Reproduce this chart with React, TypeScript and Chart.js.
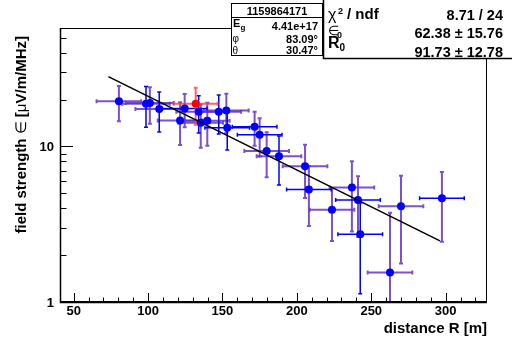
import React, { useEffect, useRef } from "react";
import { Chart, registerables } from "chart.js";

Chart.register(...registerables);

// ---- data ----
const distance = [80.4, 98.6, 101.2, 107.5, 124.6, 134.0, 121.5, 135.4, 139.8, 147.5, 152.6, 153.2, 171.6, 175.0, 179.7, 188.0, 205.5, 208.1, 223.6, 237.0, 241.1, 242.6, 262.6, 270.0, 297.5];
const fieldStrength = [19.5, 18.8, 19.0, 17.4, 17.5, 16.7, 14.7, 14.2, 14.6, 16.7, 17.0, 13.2, 13.4, 11.9, 9.33, 8.66, 7.46, 5.28, 3.92, 5.44, 4.53, 2.73, 1.55, 4.12, 4.64];
const distanceError = [15, 16, 16, 16, 15, 15, 15, 15, 15, 15, 15, 15, 15, 15, 15, 15, 15, 15, 15, 15, 15, 15, 15, 15, 15];
const fieldError = [5.0, 5.5, 5.0, 5.0, 4.2, 4.5, 4.5, 4.4, 4.5, 4.7, 4.8, 3.7, 3.3, 3.3, 3.0, 3.0, 2.8, 2.2, 1.45, 2.6, 1.9, 1.6, 2.2, 2.35, 2.2];
// which error bars are drawn in blue (the rest are purple)
const xErrorBlue = [false, false, false, false, true, false, false, false, false, false, false, true, true, true, false, false, false, true, false, false, true, true, false, false, true];
const yErrorBlue = [false, true, false, true, false, true, false, false, false, true, false, true, false, false, false, true, false, false, false, false, false, true, false, false, false];

const flaggedDistance = [132.0];
const flaggedField = [18.8];
const flaggedDistanceError = [14.7];
const flaggedFieldError = [5.0];

const fitDistance = [73.3, 296.2];
const fitField = [28.1, 2.47];

const xMajorTicks = [50, 100, 150, 200, 250, 300];
const xMinorTicks = [60, 70, 80, 90, 110, 120, 130, 140, 160, 170, 180, 190, 210, 220, 230, 240, 260, 270, 280, 290, 310, 320];
const yMajorTicks = [1, 10];
const yMinorTicks = [2, 3, 4, 5, 6, 7, 8, 9, 20, 30, 40, 50];

const xTitle = "distance R [m]";
// y title pieces: [text, bold?]
const yTitleParts: [string, boolean][] = [
  ["field strength ", true],
  ["\u2208", false],
  [" [", true],
  ["\u03bc", false],
  ["V/m/MHz]", true],
];

const eventId = "1159864171";
const energyText = "4.41e+17";
const phiText = "83.09\u00b0";
const thetaText = "30.47\u00b0";
const chi2Text = "8.71 / 24";
const eps0Text = "62.38 \u00b1 15.76";
const r0Text = "91.73 \u00b1 12.78";

const FONT = '"Liberation Sans", Arial, sans-serif';
const PURPLE = "rgba(100,50,200,0.85)";
const BLUE = "#0000ff";
const RED_BAR = "rgba(255,60,60,0.8)";

const errorBarPlugin = {
  id: "errorBars",
  beforeDatasetsDraw(chart: any) {
    const { ctx, chartArea: a, scales } = chart;
    const xs = scales.x;
    const ys = scales.y;
    ctx.save();
    ctx.beginPath();
    ctx.rect(a.left, a.top, a.right - a.left, a.bottom - a.top);
    ctx.clip();
    const cap = 2;
    const drawX = (i: number, X: number[], Y: number[], EX: number[], color: string, w: number) => {
      const py = ys.getPixelForValue(Y[i]);
      const xl = xs.getPixelForValue(X[i] - EX[i]);
      const xr = xs.getPixelForValue(X[i] + EX[i]);
      ctx.strokeStyle = color;
      ctx.lineWidth = w;
      ctx.beginPath();
      ctx.moveTo(xl, py);
      ctx.lineTo(xr, py);
      ctx.moveTo(xl, py - cap);
      ctx.lineTo(xl, py + cap);
      ctx.moveTo(xr, py - cap);
      ctx.lineTo(xr, py + cap);
      ctx.stroke();
    };
    const drawY = (i: number, X: number[], Y: number[], EY: number[], color: string, w: number) => {
      const px = xs.getPixelForValue(X[i]);
      const yt = ys.getPixelForValue(Y[i] + EY[i]);
      const low = Y[i] - EY[i];
      const yb = low > 0 ? ys.getPixelForValue(low) : a.bottom + 20;
      ctx.strokeStyle = color;
      ctx.lineWidth = w;
      ctx.beginPath();
      ctx.moveTo(px, yt);
      ctx.lineTo(px, yb);
      ctx.moveTo(px - cap, yt);
      ctx.lineTo(px + cap, yt);
      ctx.moveTo(px - cap, yb);
      ctx.lineTo(px + cap, yb);
      ctx.stroke();
    };
    for (let i = 0; i < distance.length; i++) {
      if (!xErrorBlue[i]) drawX(i, distance, fieldStrength, distanceError, PURPLE, 2);
      if (!yErrorBlue[i]) drawY(i, distance, fieldStrength, fieldError, PURPLE, 2);
    }
    for (let i = 0; i < distance.length; i++) {
      if (xErrorBlue[i]) drawX(i, distance, fieldStrength, distanceError, BLUE, 1.5);
      if (yErrorBlue[i]) drawY(i, distance, fieldStrength, fieldError, BLUE, 1.5);
    }
    for (let i = 0; i < flaggedDistance.length; i++) {
      drawX(i, flaggedDistance, flaggedField, flaggedDistanceError, RED_BAR, 2);
      drawY(i, flaggedDistance, flaggedField, flaggedFieldError, RED_BAR, 2);
    }
    ctx.restore();
  },
};

const framePlugin = {
  id: "rootFrame",
  afterDraw(chart: any) {
    const { ctx, chartArea: a, scales } = chart;
    const xs = scales.x;
    const ys = scales.y;
    ctx.save();
    // frame
    ctx.strokeStyle = "#000";
    ctx.lineWidth = 1;
    ctx.strokeRect(a.left + 0.5, a.top + 0.5, a.right - a.left - 1, a.bottom - a.top - 1);
    ctx.lineWidth = 1.5;
    ctx.beginPath();
    ctx.moveTo(a.left + 0.5, a.top);
    ctx.lineTo(a.left + 0.5, a.bottom + 0.5);
    ctx.lineTo(a.right, a.bottom + 0.5);
    ctx.stroke();

    // ticks (inside)
    ctx.lineWidth = 1;
    ctx.beginPath();
    for (const v of xMajorTicks) {
      const px = Math.round(xs.getPixelForValue(v)) + 0.5;
      ctx.moveTo(px, a.bottom);
      ctx.lineTo(px, a.bottom - 9);
    }
    for (const v of xMinorTicks) {
      const px = Math.round(xs.getPixelForValue(v)) + 0.5;
      ctx.moveTo(px, a.bottom);
      ctx.lineTo(px, a.bottom - 4.5);
    }
    for (const v of yMajorTicks) {
      const py = Math.round(ys.getPixelForValue(v)) + 0.5;
      ctx.moveTo(a.left, py);
      ctx.lineTo(a.left + 13, py);
    }
    for (const v of yMinorTicks) {
      const py = Math.round(ys.getPixelForValue(v)) + 0.5;
      ctx.moveTo(a.left, py);
      ctx.lineTo(a.left + 6.5, py);
    }
    ctx.stroke();

    // tick labels
    ctx.fillStyle = "#000";
    ctx.font = `bold 13px ${FONT}`;
    ctx.textAlign = "center";
    ctx.textBaseline = "alphabetic";
    for (const v of xMajorTicks) {
      ctx.fillText(String(v), xs.getPixelForValue(v), a.bottom + 12.5);
    }
    ctx.textAlign = "right";
    for (const v of yMajorTicks) {
      ctx.fillText(String(v), a.left - 6, ys.getPixelForValue(v) + 4.5);
    }

    // axis titles
    ctx.font = `bold 15px ${FONT}`;
    ctx.textAlign = "right";
    ctx.fillText(xTitle, a.right, 333);

    // y title, rotated, right-aligned at top
    const partFont = (bold: boolean) => (bold ? `bold 15px ${FONT}` : `15px ${FONT}`);
    let total = 0;
    const widths = yTitleParts.map(([t, b]) => {
      ctx.font = partFont(b);
      const w = ctx.measureText(t).width;
      total += w;
      return w;
    });
    ctx.save();
    ctx.translate(25.5, a.top + 8);
    ctx.rotate(-Math.PI / 2);
    ctx.textAlign = "left";
    let cx = -total;
    yTitleParts.forEach(([t, b], i) => {
      ctx.font = partFont(b);
      ctx.fillText(t, cx, 0);
      cx += widths[i];
    });
    ctx.restore();

    // ---- stat boxes ----
    // left box
    ctx.fillStyle = "#fff";
    ctx.fillRect(231, 3, 92, 53);
    ctx.strokeStyle = "#000";
    ctx.lineWidth = 1;
    ctx.strokeRect(231.5, 3.5, 91, 52);
    ctx.beginPath();
    ctx.moveTo(231.5, 17.5);
    ctx.lineTo(322.5, 17.5);
    ctx.stroke();
    ctx.fillStyle = "#000";
    ctx.font = `bold 11px ${FONT}`;
    ctx.textAlign = "center";
    ctx.fillText(eventId, 277, 15);
    ctx.textAlign = "left";
    ctx.fillText("E", 233, 27);
    ctx.font = `bold 8px ${FONT}`;
    ctx.fillText("g", 240.5, 29.5);
    ctx.font = `10px ${FONT}`;
    ctx.fillText("\u03c6", 232.5, 42);
    ctx.fillText("\u03b8", 232.5, 54);
    ctx.font = `bold 11px ${FONT}`;
    ctx.textAlign = "right";
    ctx.fillText(energyText, 318, 30);
    ctx.fillText(phiText, 318, 43);
    ctx.fillText(thetaText, 318, 53.5);

    // right box
    ctx.fillStyle = "#fff";
    ctx.fillRect(323, 0, 189, 59);
    ctx.strokeStyle = "#000";
    ctx.lineWidth = 1.5;
    ctx.beginPath();
    ctx.moveTo(323.5, 0);
    ctx.lineTo(323.5, 58.5);
    ctx.lineTo(512, 58.5);
    ctx.stroke();
    ctx.fillStyle = "#000";
    ctx.textAlign = "left";
    ctx.font = `16px ${FONT}`;
    ctx.fillText("\u03c7", 328, 20);
    ctx.font = `bold 9px ${FONT}`;
    ctx.fillText("2", 338, 14);
    ctx.font = `bold 15px ${FONT}`;
    ctx.fillText("/ ndf", 347, 19);
    ctx.font = `13px ${FONT}`;
    ctx.fillText("\u2208", 327.5, 35);
    ctx.font = `bold 9px ${FONT}`;
    ctx.fillText("0", 337, 38);
    ctx.font = `bold 16px ${FONT}`;
    ctx.fillText("R", 328, 48);
    ctx.font = `bold 10px ${FONT}`;
    ctx.fillText("0", 339.5, 51);
    ctx.font = `bold 14.5px ${FONT}`;
    ctx.textAlign = "right";
    ctx.fillText(chi2Text, 503, 19.5);
    ctx.fillText(eps0Text, 503, 37.5);
    ctx.fillText(r0Text, 503, 57);
    ctx.restore();
  },
};

export default function App() {
  const ref = useRef<HTMLCanvasElement>(null);
  useEffect(() => {
    const canvas = ref.current;
    if (!canvas) return;
    const chart = new Chart(canvas, {
      type: "scatter",
      data: {
        datasets: [
          {
            type: "line",
            label: "fit",
            data: fitDistance.map((r, i) => ({ x: r, y: fitField[i] })),
            borderColor: "#000",
            borderWidth: 1.6,
            pointRadius: 0,
            fill: false,
            tension: 0,
            order: 0,
          } as any,
          {
            label: "stations",
            data: distance.map((r, i) => ({ x: r, y: fieldStrength[i] })),
            backgroundColor: BLUE,
            borderWidth: 0,
            pointRadius: 4,
            order: 1,
          },
          {
            label: "flagged",
            data: flaggedDistance.map((r, i) => ({ x: r, y: flaggedField[i] })),
            backgroundColor: "#ff0000",
            borderWidth: 0,
            pointRadius: 4,
            order: 1,
          },
        ],
      },
      options: {
        animation: false,
        responsive: false,
        devicePixelRatio: 1,
        layout: { padding: { left: 60, top: 28, right: 25, bottom: 43 } },
        plugins: { legend: { display: false }, tooltip: { enabled: false } },
        scales: {
          x: { type: "linear", min: 40.8, max: 327.8, display: false },
          y: { type: "logarithmic", min: 1, max: 57.7, display: false },
        },
      },
      plugins: [errorBarPlugin, framePlugin],
    });
    return () => chart.destroy();
  }, []);
  return (
    <div style={{ position: "absolute", left: 0, top: 0, width: 512, height: 345, background: "#fff" }}>
      <canvas ref={ref} width={512} height={345} />
    </div>
  );
}
